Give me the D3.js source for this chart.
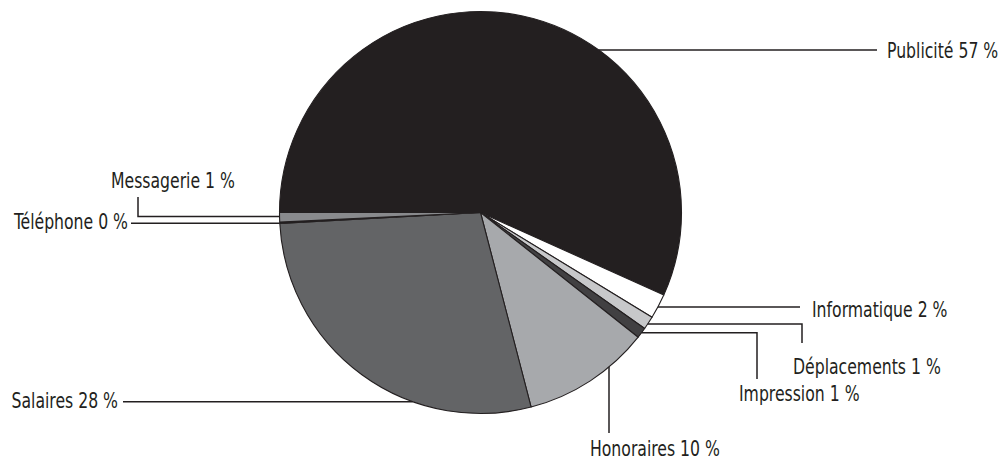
<!DOCTYPE html>
<html>
<head>
<meta charset="utf-8">
<script src="https://cdn.jsdelivr.net/npm/d3@7"></script>
<style>
  html, body { margin: 0; padding: 0; background: #fff; }
  svg text { font-family: "DejaVu Sans Condensed", "DejaVu Sans", sans-serif; font-stretch: condensed; font-size: 21px; fill: #231f20; }
</style>
</head>
<body>
<svg id="chart" width="1003" height="460"></svg>
<script>
// ---- data ----
const categories = ["Publicité", "Informatique", "Déplacements", "Impression", "Honoraires", "Salaires", "Téléphone", "Messagerie"];
const values = [56.75, 2.0, 1.06, 0.86, 10.3, 28.2, 0.1, 0.76];
const percentLabels = ["57 %", "2 %", "1 %", "1 %", "10 %", "28 %", "0 %", "1 %"];
const colors = ["#231f20", "#ffffff", "#c7c8ca", "#414042", "#a7a9ac", "#636466", "#ffffff", "#898a8d"];

// ---- layout ----
const cx = 480.5, cy = 212.5, R = 201;
const svg = d3.select("#chart");
const g = svg.append("g").attr("transform", `translate(${cx},${cy})`);

const pie = d3.pie().sort(null).value(d => d)
  .startAngle(-Math.PI / 2).endAngle(3 * Math.PI / 2);
const arc = d3.arc().innerRadius(0).outerRadius(R);

g.selectAll("path.slice")
  .data(pie(values))
  .join("path")
  .attr("class", "slice")
  .attr("d", arc)
  .attr("fill", (d, i) => colors[i])
  .attr("stroke", "#231f20")
  .attr("stroke-width", 1.1)
  .attr("stroke-linejoin", "round");

const edgeAtY = (y, side) => cx + side * Math.sqrt(R * R - (y - cy) * (y - cy));
const edgeAtX = (x) => cy + Math.sqrt(R * R - (x - cx) * (x - cx));

const leaders = {
  "Publicité":    { pts: [[edgeAtY(50, 1), 50], [877, 50]], tx: 887, ty: 58, anchor: "start" },
  "Informatique": { pts: [[edgeAtY(307, 1), 307], [800, 307]], tx: 812, ty: 317, anchor: "start" },
  "Déplacements": { pts: [[edgeAtY(324, 1), 324], [802, 324], [802, 343]], tx: 793, ty: 374, anchor: "start" },
  "Impression":   { pts: [[edgeAtY(332.7, 1), 332.7], [757, 332.7], [757, 379]], tx: 739, ty: 401, anchor: "start" },
  "Honoraires":   { pts: [[609, edgeAtX(609)], [609, 433]], tx: 590, ty: 456, anchor: "start" },
  "Salaires":     { pts: [[edgeAtY(401.7, -1), 401.7], [123, 401.7]], tx: 118, ty: 408, anchor: "end" },
  "Téléphone":    { pts: [[edgeAtY(223.3, -1), 223.3], [131, 223.3]], tx: 128, ty: 229, anchor: "end" },
  "Messagerie":   { pts: [[edgeAtY(216.5, -1), 216.5], [138, 216.5], [138, 197]], tx: 111, ty: 188, anchor: "start" }
};
const squeeze = 0.83; // horizontal compression to mimic a condensed face

const line = d3.line();
const lg = svg.append("g");
categories.forEach((c, i) => {
  const L = leaders[c];
  lg.append("path")
    .attr("d", line(L.pts))
    .attr("fill", "none")
    .attr("stroke", "#231f20")
    .attr("stroke-width", 1.5);
  lg.append("text")
    .attr("transform", `translate(${L.tx},${L.ty}) scale(${squeeze},1)`)
    .attr("text-anchor", L.anchor)
    .text(`${c} ${percentLabels[i]}`);
});
</script>
</body>
</html>
